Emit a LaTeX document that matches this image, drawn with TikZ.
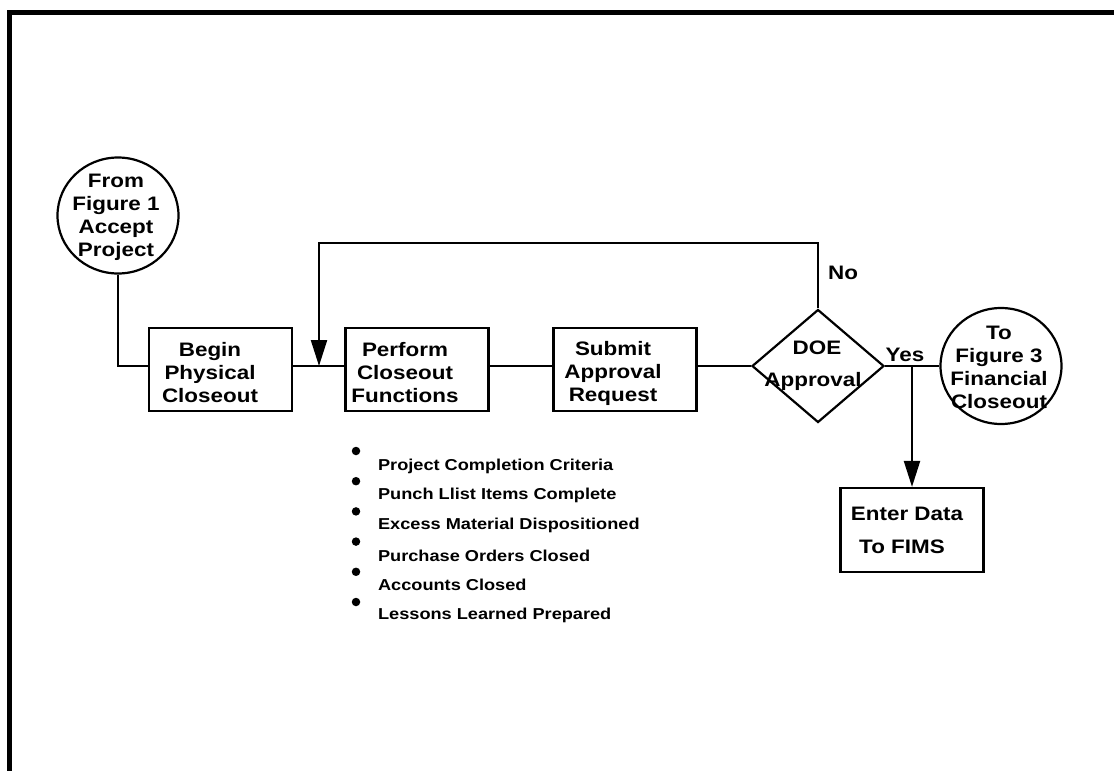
\documentclass[tikz,border=0pt]{standalone}
\usepackage{fontspec}
\newfontfamily\flowfont{Liberation Sans}[FakeStretch=1.15]
\usetikzlibrary{shapes.geometric,arrows.meta}

\begin{document}
\begin{tikzpicture}[x=1pt,y=-1pt,line width=2.2pt,
  stepbox/.style={draw,rectangle,minimum width=143pt,minimum height=83pt,inner sep=0pt},
  connector/.style={draw,ellipse,minimum width=121pt,minimum height=116pt,inner sep=0pt},
  decision/.style={draw,diamond,minimum width=132pt,minimum height=113pt,inner sep=0pt},
  label/.style={font=\flowfont\bfseries\fontsize{19.5}{23}\selectfont,align=center,inner sep=0pt},
  note/.style={font=\flowfont\bfseries\fontsize{15.8}{18}\selectfont,anchor=west,inner sep=0pt},
  dot/.style={circle,fill,minimum size=8.5pt,inner sep=0pt},
  flow/.style={-{Triangle[length=26pt,width=16pt]}}]

\useasboundingbox (0,0) rectangle (1114,771);

% page frame, open at the right and bottom
\draw[line width=5pt] (9.5,771) -- (9.5,12.5) -- (1114,12.5);

% shapes
\node[connector] (from) at (118,215.5) {};
\node[stepbox] (begin) at (220.5,369.5) {};
\node[stepbox] (perform) at (417,369.5) {};
\node[stepbox] (submit) at (625,369.5) {};
\node[decision] (doe) at (818,366) {};
\node[connector] (to) at (1001,366) {};
\node[stepbox,minimum height=84pt] (enter) at (912,530) {};

% labels inside the shapes
\node[label] (fromtxt) at (116,217) {From\\Figure 1\\Accept\\Project};
\node[label] (begintxt) at (210,373) {Begin\\Physical\\Closeout};
\node[label] (performtxt) at (405,373) {Perform\\Closeout\\Functions};
\node[label] (submittxt) at (613,373) {Submit\\Approval\\Request};
\node[label] (doetxt1) at (817,348) {DOE};
\node[label] (doetxt2) at (813,381) {Approval};
\node[label] (totxt) at (999,367) {To\\Figure 3\\Financial\\Closeout};
\node[label] (entertxt1) at (907,514) {Enter Data};
\node[label] (entertxt2) at (902,547) {To FIMS};

% connectors
\coordinate (merge) at (319,366);
\coordinate (loop) at (319,243);
\coordinate (split) at (912,366);
\draw (from.south) |- (begin.west |- doe.west);
\draw (begin.east |- doe.west) -- (perform.west |- doe.west);
\draw (perform.east |- doe.west) -- (submit.west |- doe.west);
\draw (submit.east |- doe.west) -- (doe.west);
\draw[flow] (doe.north) |- (loop) -- (merge);
\draw (doe.east) -- (to.west);
\draw[flow] (split) -- (enter.north);

% branch labels
\node[label] (no) at (843,273) {No};
\node[label] (yes) at (905,355) {Yes};

% checklist under the closeout functions
\foreach \i/\t in {0/Project Completion Criteria,
                   1/Punch Llist Items Complete,
                   2/Excess Material Dispositioned,
                   3/Purchase Orders Closed,
                   4/Accounts Closed,
                   5/Lessons Learned Prepared}{
  \node[dot] (b\i) at (356,{451+30.2*\i}) {};
  \node[note] (t\i) at (377,{466+29.8*\i}) {\t};
}
\end{tikzpicture}
\end{document}
